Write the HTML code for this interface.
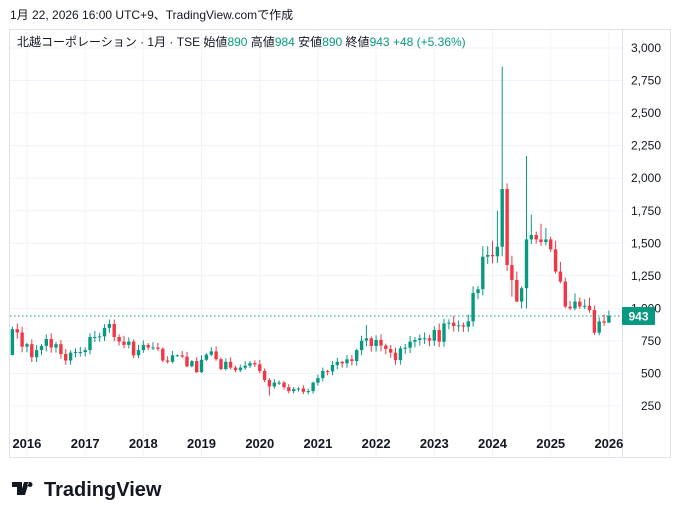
<!DOCTYPE html>
<html><head><meta charset="utf-8"><style>
body{margin:0;background:#fff;width:684px;height:518px;overflow:hidden;font-family:"Liberation Sans","Noto Sans CJK JP",sans-serif;}
</style></head><body>
<svg id="s" width="684" height="518" xmlns="http://www.w3.org/2000/svg" style="position:absolute;left:0;top:0">
<text x="10" y="19" font-size="12" fill="#131722" font-family="Liberation Sans, Noto Sans CJK JP, sans-serif">1月 22, 2026 16:00 UTC+9、TradingView.comで作成</text>
<rect x="9.5" y="29.5" width="661" height="428" fill="none" stroke="#e0e3eb"/>
<line x1="622.5" y1="30" x2="622.5" y2="457" stroke="#e0e3eb"/>
<g id="grid"></g>
<g id="c"></g>
<line x1="10" y1="316" x2="622" y2="316" stroke="#089981" stroke-dasharray="1.5,2.5" stroke-width="1"/>
<rect x="622" y="307" width="33" height="18" fill="#089981" rx="1"/>
<text x="638.5" y="320.5" font-size="12" fill="#fff" text-anchor="middle" font-weight="bold">943</text>
<text x="17" y="46" font-size="12" fill="#131722" font-family="Liberation Sans, Noto Sans CJK JP, sans-serif">北越コーポレーション · 1月 · TSE  始値<tspan fill="#089981">890</tspan>  高値<tspan fill="#089981">984</tspan>  安値<tspan fill="#089981">890</tspan>  終値<tspan fill="#089981">943</tspan>  <tspan fill="#089981">+48 (+5.36%)</tspan></text>
<g transform="translate(12,479)">
<path d="M0 3h10v13h-5v-8h-5z M12 3h5l-4 13h-5z M18 3a2.5 2.5 0 1 0 0.01 0z" fill="#131722"/>
<text x="32" y="17" font-size="20" font-weight="bold" fill="#131722">TradingView</text>
</g>
</svg>
<script>
const Y=p=>48+(3000-p)/250*32.55;
const X=i=>12.4+i*4.85;
let g='';
for(let p=250;p<=3000;p+=250){const y=Y(p).toFixed(1);
 g+=`<line x1="10" y1="${y}" x2="622" y2="${y}" stroke="#f0f3fa"/>`;
 g+=`<text x="661" y="${(+y+4).toFixed(1)}" font-size="12" fill="#131722" text-anchor="end">${p.toLocaleString('en-US')}</text>`;}
for(let yr=2016;yr<=2026;yr++){const i=3+(yr-2016)*12;const x=X(i).toFixed(1);
 g+=`<line x1="${x}" y1="30" x2="${x}" y2="457" stroke="#f0f3fa"/>`;
 g+=`<text x="${x}" y="448" font-size="13" font-weight="bold" fill="#131722" text-anchor="middle">${yr}</text>`;}
document.getElementById('grid').innerHTML=g;
const C=[840,815,706,
725,625,680,712,765,700,725,650,600,660,665,665,
680,780,780,785,850,880,780,745,720,745,640,680,
720,700,700,690,600,590,640,640,630,555,595,510,
605,645,670,610,535,590,545,525,545,560,580,570,
520,450,400,430,430,395,365,380,385,360,365,430,
465,520,515,565,590,578,609,596,680,752,770,711,
757,714,688,660,603,693,698,744,757,770,770,752,
834,744,885,890,865,870,860,900,1118,1147,1397,1410,
1400,1474,1917,1333,1218,1052,1155,1530,1564,1530,1510,1530,
1454,1283,1206,1014,1000,1052,1014,1020,988,814,900,890,
943];
const hi={0:860,20:915,73:873,99:1520,100:1750,101:2857,102:1960,106:2170,107:1720,109:1650,111:1550,118:1070};
const lo={0:640,53:330,101:1400,103:1090,104:1050,105:1000,106:1000};
let s='';let prev=642;
for(let i=0;i<C.length;i++){
 const o=prev,c=C[i];const up=c>=o;const col=up?'#089981':'#F23645';
 const r=Math.abs(Math.sin(i*7.3))*0.05+0.01;
 let h=Math.max(o,c)*(1+r),l=Math.min(o,c)*(1-Math.abs(Math.cos(i*3.1))*0.05-0.01);
 if(hi[i])h=hi[i]; if(lo[i])l=lo[i];
 if(i==123){h=984;l=890;}
 const x=X(i);
 s+=`<line x1="${x.toFixed(1)}" y1="${Y(h).toFixed(1)}" x2="${x.toFixed(1)}" y2="${Y(l).toFixed(1)}" stroke="${col}" stroke-width="1"/>`;
 const yt=Y(Math.max(o,c)),yb=Y(Math.min(o,c));
 s+=`<rect x="${(x-1.7).toFixed(1)}" y="${yt.toFixed(1)}" width="3.4" height="${Math.max(1,yb-yt).toFixed(1)}" fill="${col}"/>`;
 prev=c;}
document.getElementById('c').innerHTML=s;
</script>
</body></html>
